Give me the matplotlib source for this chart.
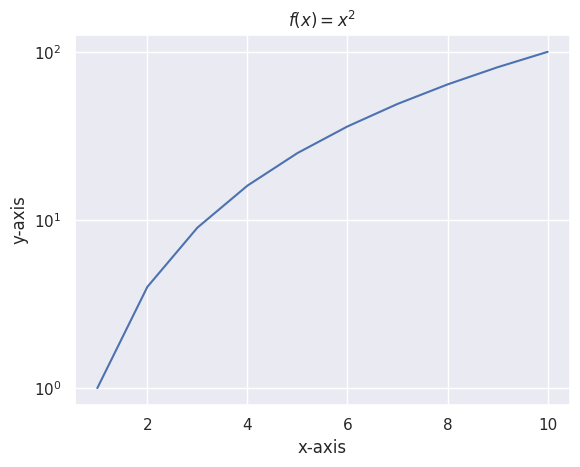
import matplotlib
matplotlib.use('Agg')
import matplotlib.pyplot as plt
import seaborn as sns

sns.set_theme()

x = [1, 2, 3, 4, 5, 6, 7, 8, 9, 10]
y = [1, 4, 9, 16, 25, 36, 49, 64, 81, 100]

fig, ax = plt.subplots(figsize=(5.8, 4.67), dpi=100)
fig.subplots_adjust(left=0.129, right=0.983, top=0.925, bottom=0.133)

ax.plot(x, y)
ax.set(yscale='log', xlabel='x-axis', ylabel='y-axis', title=r'$f(x) = x^2$')

plt.savefig('out.png')
